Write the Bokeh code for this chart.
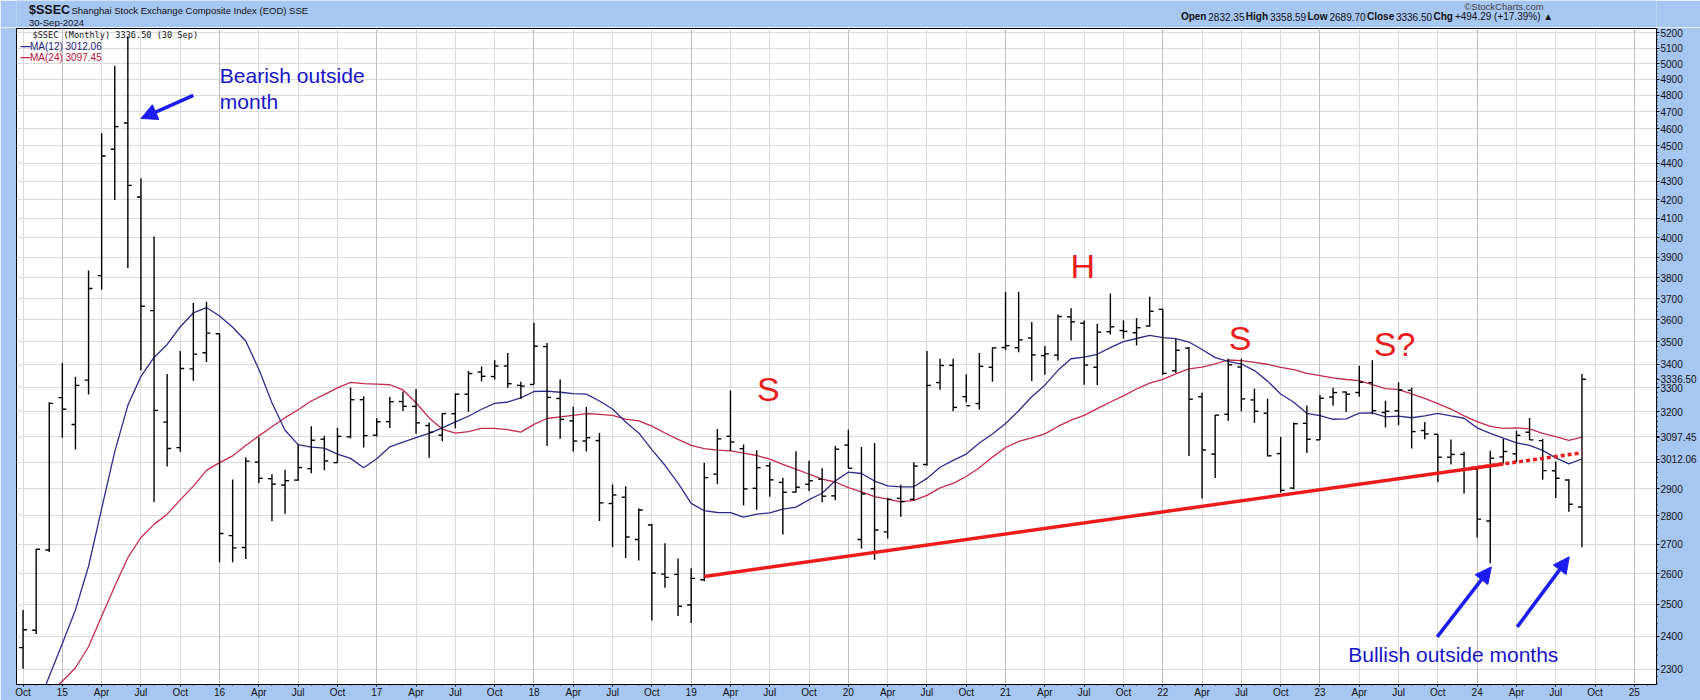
import numpy as np
import pandas as pd
from bokeh.plotting import figure
from bokeh.layouts import column
from bokeh.models import (Range1d, FixedTicker, Label, Arrow, NormalHead,
                          ColumnDataSource, Grid, PrintfTickFormatter)
from bokeh.core.properties import value
from bokeh.embed import file_html
from bokeh.resources import INLINE

# ---------------- data (monthly bars, Oct 2014 .. Sep 2024) ----------------
months = list(pd.period_range("2014-10", "2024-09", freq="M").strftime("%Y-%m"))

opens = [2365.3, 2418.3, 2680.2,
         3258.6, 3148.1, 3332.7, 3810.3, 4480.5, 4633.1, 4214.2, 3643.1, 3157.8, 3056.2, 3380.9, 3451.4,
         3536.6, 2730.2, 2688.9, 3000.0, 2937.0, 2913.0, 2931.8, 2975.2, 3089.6, 2998.0, 3099.0, 3250.0,
         3105.3, 3159.7, 3242.2, 3222.2, 3144.1, 3105.6, 3192.0, 3272.9, 3367.1, 3348.0, 3393.2, 3310.0,
         3314.0, 3479.0, 3255.0, 3163.0, 3082.2, 3084.0, 2845.0, 2868.0, 2717.0, 2768.0, 2599.0, 2598.0,
         2497.9, 2580.0, 2954.0, 3101.0, 3052.0, 2901.0, 2986.0, 2923.0, 2887.0, 2916.0, 2935.0, 2873.0,
         3066.3, 2716.7, 2899.3, 2743.5, 2863.7, 2860.4, 2991.0, 3322.0, 3396.0, 3262.6, 3234.0, 3388.0,
         3474.7, 3474.0, 3517.0, 3439.0, 3441.0, 3614.0, 3585.0, 3388.0, 3546.0, 3551.0, 3541.0, 3572.0,
         3649.0, 3373.0, 3472.0, 3262.0, 3031.0, 3190.0, 3389.0, 3249.0, 3194.0, 3033.0, 2902.0, 3153.0,
         3087.0, 3261.0, 3282.0, 3280.0, 3322.0, 3197.0, 3204.0, 3289.0, 3124.0, 3109.0, 3019.0, 3030.0,
         2973.0, 2782.0, 3020.0, 3032.0, 3117.0, 3084.0, 2967.0, 2932.0, 2832.35]

highs = [2482.2, 2683.5, 3239.4,
         3406.8, 3347.1, 3835.6, 4572.4, 4986.5, 5178.2, 4317.1, 4006.3, 3358.5, 3459.2, 3678.3, 3684.6,
         3538.7, 2933.9, 3018.8, 3097.4, 2953.4, 2970.5, 3069.3, 3140.8, 3102.6, 3135.2, 3301.2, 3264.2,
         3174.0, 3261.2, 3284.4, 3295.2, 3156.5, 3193.5, 3276.9, 3371.7, 3391.0, 3419.0, 3450.5, 3325.6,
         3587.0, 3495.1, 3335.3, 3220.8, 3219.7, 3114.3, 2915.3, 2908.8, 2827.3, 2771.9, 2703.5, 2651.8,
         2618.2, 2997.5, 3129.9, 3288.5, 3068.5, 3046.0, 2999.4, 2941.0, 3042.4, 3005.0, 2977.0, 3063.0,
         3127.2, 3058.9, 3074.3, 2865.9, 2914.3, 3000.0, 3458.8, 3424.9, 3425.6, 3358.0, 3451.0, 3474.9,
         3731.7, 3731.7, 3590.0, 3481.0, 3625.0, 3654.0, 3597.7, 3581.3, 3723.9, 3597.9, 3608.5, 3708.9,
         3651.9, 3513.3, 3477.3, 3278.6, 3186.4, 3424.8, 3424.9, 3296.5, 3254.0, 3098.7, 3156.4, 3226.0,
         3269.3, 3299.6, 3284.0, 3395.0, 3419.0, 3246.0, 3322.1, 3300.9, 3158.0, 3110.0, 3088.4, 3040.0,
         2977.0, 3044.0, 3091.0, 3123.5, 3174.3, 3090.0, 3002.0, 2935.0, 3358.59]

lows = [2302.3, 2406.9, 2673.6,
        3095.1, 3049.1, 3272.0, 3742.2, 4198.0, 3847.9, 3373.5, 2850.7, 2983.5, 3039.7, 3329.8, 3410.7,
        2638.3, 2638.9, 2649.5, 2920.4, 2780.8, 2807.5, 2929.0, 2957.1, 2969.3, 2998.0, 3092.6, 3056.9,
        3100.0, 3134.1, 3202.7, 3111.1, 3016.5, 3081.4, 3133.2, 3200.0, 3327.4, 3335.0, 3300.0, 3254.2,
        3314.0, 3062.7, 3091.0, 3041.6, 3041.0, 2782.4, 2691.0, 2653.1, 2644.3, 2449.2, 2553.9, 2462.8,
        2440.9, 2575.0, 2917.0, 3043.0, 2838.4, 2822.6, 2870.0, 2733.9, 2885.0, 2891.0, 2850.0, 2857.3,
        2976.5, 2685.3, 2646.8, 2719.9, 2797.6, 2856.0, 2985.9, 3292.0, 3202.3, 3238.0, 3209.0, 3325.6,
        3464.0, 3453.6, 3328.5, 3356.0, 3417.0, 3505.8, 3312.7, 3312.0, 3533.0, 3515.0, 3484.0, 3568.0,
        3355.3, 3363.0, 3023.3, 2863.7, 2939.4, 3162.5, 3202.0, 3155.2, 3021.9, 2885.1, 2896.8, 3035.0,
        3086.8, 3225.0, 3199.0, 3262.0, 3190.0, 3136.5, 3145.8, 3053.0, 3089.6, 2923.5, 2990.8, 2882.0,
        2724.0, 2635.1, 2995.0, 3000.0, 3085.9, 2933.0, 2865.1, 2815.0, 2689.70]

closes = [2420.2, 2682.8, 3234.7,
          3210.4, 3310.3, 3747.9, 4441.7, 4611.7, 4277.2, 3663.7, 3205.9, 3052.8, 3382.6, 3445.4, 3539.2,
          2737.6, 2687.9, 3003.9, 2938.3, 2916.6, 2929.6, 2979.3, 3085.5, 3004.7, 3100.5, 3250.0, 3103.6,
          3159.2, 3241.7, 3222.5, 3155.0, 3117.2, 3192.4, 3273.0, 3360.8, 3348.9, 3393.3, 3317.2, 3307.2,
          3480.8, 3259.4, 3168.9, 3082.2, 3095.5, 2847.4, 2876.4, 2725.3, 2821.4, 2602.8, 2588.2, 2493.9,
          2584.6, 2940.9, 3090.8, 3078.3, 2898.7, 2978.9, 2932.5, 2886.2, 2905.2, 2929.1, 2871.9, 3050.1,
          2976.5, 2880.3, 2750.3, 2860.1, 2852.4, 2984.7, 3310.0, 3395.7, 3218.1, 3225.0, 3391.8, 3473.1,
          3483.1, 3509.1, 3441.9, 3446.9, 3615.5, 3591.2, 3397.4, 3543.9, 3568.2, 3547.3, 3563.9, 3639.8,
          3361.4, 3462.3, 3252.2, 3047.1, 3186.4, 3398.6, 3253.2, 3202.1, 3024.4, 2893.5, 3151.3, 3089.3,
          3255.7, 3279.6, 3272.9, 3323.3, 3204.6, 3202.1, 3291.0, 3119.9, 3110.5, 3018.8, 3029.7, 2975.0,
          2788.6, 3015.2, 3041.2, 3104.8, 3086.8, 2967.4, 2938.8, 2842.2, 3336.50]

# monthly closes Nov 2012 .. Sep 2014 (before the visible window; feed the moving averages)
closes_before = [1980.1, 2269.1,
                 2385.4, 2365.6, 2236.6, 2177.9, 2300.6, 1979.2, 1993.8, 2098.4, 2174.7, 2141.6, 2220.5, 2116.0,
                 2033.1, 2056.3, 2033.3, 2026.4, 2039.2, 2048.3, 2201.6, 2217.2, 2363.9]

last_close = 3336.50
last_ma12 = 3012.06
last_ma24 = 3097.45

x_tick_labels = ["Oct",
                 "15", "Apr", "Jul", "Oct", "16", "Apr", "Jul", "Oct",
                 "17", "Apr", "Jul", "Oct", "18", "Apr", "Jul", "Oct",
                 "19", "Apr", "Jul", "Oct", "20", "Apr", "Jul", "Oct",
                 "21", "Apr", "Jul", "Oct", "22", "Apr", "Jul", "Oct",
                 "23", "Apr", "Jul", "Oct", "24", "Apr", "Jul", "Oct",
                 "25"]
y_ticks = [2300, 2400, 2500, 2600, 2700, 2800, 2900, 3000, 3100, 3200, 3300, 3400, 3500,
           3600, 3700, 3800, 3900, 4000, 4100, 4200, 4300, 4400, 4500, 4600, 4700, 4800,
           4900, 5000, 5100, 5200]

# trend line (annotation): month index / price
trend_x = [52, 119]
trend_y = [2591, 3036]

# ---------------- derived ----------------
n = len(closes)
x = np.arange(n)
allc = pd.Series(closes_before + closes)
ma12 = allc.rolling(12).mean().iloc[len(closes_before):].to_numpy()
ma24 = allc.rolling(24).mean().iloc[len(closes_before):].to_numpy()

FONT = "Liberation Sans"
BLUE_BG = "#a6c7f2"
NAVY = "#2d2d8c"
CRIMSON = "#c42a4c"
RED = "#ec1c1c"
TXT_BLUE = "#1616c8"
ARR_BLUE = "#1c1cf0"
W = 1700
HDR_H = 27

# ---------------- header strip ----------------
h = figure(width=W, height=HDR_H, x_range=Range1d(0, W), y_range=Range1d(HDR_H, 0),
           x_axis_type=None, y_axis_type=None, min_border=0,
           output_backend="svg", toolbar_location=None)
h.background_fill_color = BLUE_BG
h.border_fill_color = BLUE_BG
h.outline_line_color = None
h.grid.visible = False

def htext(t, xx, yy, size, bold=False, color="#111111", align="left"):
    h.text(x=[xx], y=[yy], text=[t], text_font=value(FONT), text_font_size=size,
           text_font_style="bold" if bold else "normal", text_color=color,
           text_align=align, text_baseline="middle")

htext("$SSEC", 13, 9.5, "12.5px", bold=True)
htext("Shanghai Stock Exchange Composite Index (EOD) SSE", 57, 10, "9.5px")
htext("30-Sep-2024", 13, 22, "9.5px")
htext("\u00a9StockCharts.com", 1583, 6, "9.5px", color="#444444", align="right")
for t, xx, b in [("Open", 1207.0, True), ("2832.35", 1235.4, False), ("High", 1274.3, True),
                 ("3358.59", 1299.3, False), ("Low", 1338.2, True), ("2689.70", 1361.0, False),
                 ("Close", 1399.9, True), ("3336.50", 1429.9, False), ("Chg", 1468.8, True),
                 ("+494.29 (+17.39%) \u25b2", 1491.0, False)]:
    htext(t, xx, 16, "10px", bold=b)

# ---------------- main chart ----------------
p = figure(width=W, height=700 - HDR_H, min_border_left=16, min_border_right=44,
           min_border_top=1, min_border_bottom=15,
           x_range=Range1d(-0.5, 124.69), y_range=Range1d(2256, 5230),
           y_axis_type="log", y_axis_location="right",
           output_backend="svg", toolbar_location=None)
p.border_fill_color = BLUE_BG
p.background_fill_color = "white"
p.outline_line_color = "black"
p.outline_line_width = 1

tick_pos = list(range(0, 124, 3))
p.xaxis.ticker = FixedTicker(ticks=tick_pos, minor_ticks=list(range(0, 125)))
p.xaxis.major_label_overrides = {t: l for t, l in zip(tick_pos, x_tick_labels)}
p.xaxis.major_tick_out = 2
p.xaxis.major_tick_in = 0
p.xaxis.minor_tick_out = 1
p.xaxis.minor_tick_in = 0
p.xaxis.major_label_standoff = 0
p.xaxis.major_label_text_font = FONT
p.xaxis.major_label_text_font_size = "10px"
p.xaxis.major_label_text_color = "#111111"
p.xaxis.axis_line_color = "black"

tags = {last_close: "3336.50", last_ma24: "3097.45", last_ma12: "3012.06"}
p.yaxis.ticker = FixedTicker(ticks=y_ticks + list(tags.keys()),
                             minor_ticks=list(range(2260, 5240, 20)))
p.yaxis.formatter = PrintfTickFormatter(format="%d")
ovr = dict(tags)
ovr[3000] = ""
ovr[3100] = ""
p.yaxis.major_label_overrides = ovr
p.yaxis.major_label_text_font = FONT
p.yaxis.major_label_text_font_size = "10px"
p.yaxis.major_label_text_color = "#111111"
p.yaxis.major_label_standoff = 1
p.yaxis.major_tick_out = 3
p.yaxis.major_tick_in = 0
p.yaxis.minor_tick_out = 1
p.yaxis.minor_tick_in = 0

p.xgrid.grid_line_color = "#dadada"
p.ygrid.ticker = FixedTicker(ticks=y_ticks)
p.ygrid.grid_line_color = "#dadada"
year_pos = [t for t, l in zip(tick_pos, x_tick_labels) if l.isdigit()]
p.add_layout(Grid(dimension=0, ticker=FixedTicker(ticks=year_pos), grid_line_color="#bdbdbd"))

# moving averages
p.line(x, ma24, line_color=CRIMSON, line_width=1.3)
p.line(x, ma12, line_color=NAVY, line_width=1.3)

# OHLC bars
src = ColumnDataSource(dict(x=x, xl=x - 0.3, xr=x + 0.3, o=opens, h=highs, l=lows, c=closes))
p.segment(x0="x", y0="l", x1="x", y1="h", source=src, line_color="black", line_width=1.4)
p.segment(x0="xl", y0="o", x1="x", y1="o", source=src, line_color="black", line_width=1.4)
p.segment(x0="x", y0="c", x1="xr", y1="c", source=src, line_color="black", line_width=1.4)

# trend line: solid then dotted extension (straight on the log chart)
def trend_at(xx):
    t = (xx - trend_x[0]) / (trend_x[1] - trend_x[0])
    return float(np.exp(np.log(trend_y[0]) + t * (np.log(trend_y[1]) - np.log(trend_y[0]))))

p.line([trend_x[0], 113], [trend_y[0], trend_at(113)], line_color=RED, line_width=3.5)
p.line([110.5, trend_x[1]], [trend_at(110.5), trend_y[1]], line_color=RED, line_width=3.5,
       line_dash="4 3")

# arrows
for (xs, ys, xe, ye) in [(13.0, 4800, 9.0, 4660), (107.95, 2398, 112.08, 2623),
                         (114.06, 2429, 118.03, 2657)]:
    p.add_layout(Arrow(x_start=xs, y_start=ys, x_end=xe, y_end=ye, line_color=ARR_BLUE,
                       line_width=3.5,
                       end=NormalHead(size=16, fill_color=ARR_BLUE, line_color=ARR_BLUE)))

def dlabel(text, xx, yy, size, color, align="left"):
    p.add_layout(Label(x=xx, y=yy, text=text, text_font=FONT, text_font_size=size,
                       text_color=color, text_align=align, text_baseline="middle"))

dlabel("Bearish outside", 15.02, 4926, "21px", TXT_BLUE)
dlabel("month", 15.02, 4765, "21px", TXT_BLUE)
dlabel("Bullish outside months", 101.16, 2343, "21px", TXT_BLUE)
dlabel("S", 56.9, 3295, "34px", RED, align="center")
dlabel("H", 80.9, 3857, "34px", RED, align="center")
dlabel("S", 92.9, 3516, "34px", RED, align="center")
dlabel("S?", 104.7, 3490, "34px", RED, align="center")

# in-frame title and legend (screen units, relative to the frame)
FH = 657
def slabel(text, sx, sy, size, color="#111111", bold=False, font=FONT):
    p.add_layout(Label(x=sx, y=sy, x_units="screen", y_units="screen", text=text,
                       text_font=font, text_font_size=size, text_color=color,
                       text_align="left", text_baseline="middle",
                       text_font_style="bold" if bold else "normal"))

slabel("$SSEC (Monthly) 3336.50 (30 Sep)", 16, FH - 7, "8.6px", font="DejaVu Sans Mono")
slabel("\u2014", 4, FH - 18.7, "10px", color=NAVY, bold=True)
slabel("MA(12) 3012.06", 13.5, FH - 18.7, "10px", color="#1c1c78")
slabel("\u2014", 4, FH - 29.7, "10px", color=CRIMSON, bold=True)
slabel("MA(24) 3097.45", 13.5, FH - 29.7, "10px", color="#b01038")

open("out.html", "w").write(file_html(column(h, p, spacing=0), INLINE))
